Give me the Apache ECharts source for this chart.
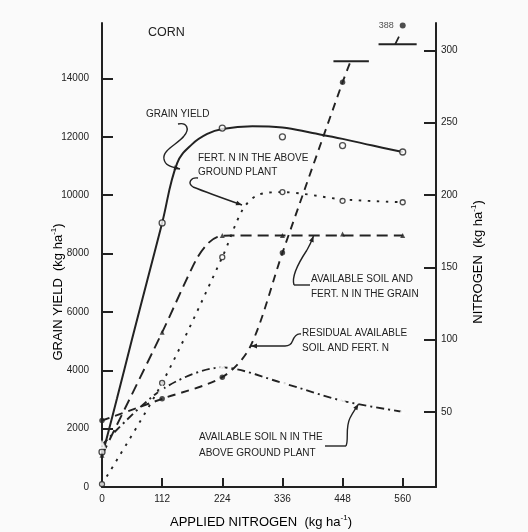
<!DOCTYPE html>
<html>
<head>
<meta charset="utf-8">
<script src="https://cdn.jsdelivr.net/npm/echarts@6/dist/echarts.min.js"></script>
<style>
  html, body { margin: 0; padding: 0; background: #fafafa; }
  #chart { width: 528px; height: 532px; }
</style>
</head>
<body>
<div id="chart"></div>
<script>
// ---- Data (kg/ha) ----
const nRates = [0, 112, 224, 336, 448, 560];
const xTicks = [0, 112, 224, 336, 448, 560];
const yieldTicks = [0, 2000, 4000, 6000, 8000, 10000, 12000, 14000];
const nitrogenTicks = [50, 100, 150, 200, 250, 300];

// Grain yield: measured means and the fitted response curve
const grainYield = [1200, 9050, 12300, 12000, 11700, 11480];
const yieldFitX = [0, 28, 56, 84, 112, 140, 168, 196, 224, 280, 336, 392, 448, 504, 560];
const yieldFitY = [1050, 3040, 5070, 7060, 9050, 11100, 11750, 12100, 12270, 12360, 12320, 12130, 11930, 11700, 11480];

// Fertilizer N in the above ground plant
const fertNPlant = [0, 70, 157, 202, 196, 195];
const fertNFitX = [0, 112, 224, 262, 290, 336, 448, 560];
const fertNFitY = [0, 70, 157, 190, 200, 202, 197, 195];

// Available soil and fertilizer N in the grain
const grainN = [20, 105, 172, 172, 173, 172];
const grainNFitX = [0, 112, 175, 196, 215, 240, 336, 448, 560];
const grainNFitY = [20, 105, 155, 166, 171, 172, 172, 172, 172];

// Residual available soil and fertilizer N (560 kg/ha value is off scale)
const residualN = [44, 59, 74, 160, 278];
const residualFitX = [0, 112, 224, 276, 336, 448, 463];
const residualFitY = [44, 59, 74, 95, 160, 278, 292.5];
const residualOffScale = [[560, 388]];

// Available soil N in the above ground plant
const soilNPlant = [27, 65.5, 80.7, 70, 57.6, 50];

// Scale-break bars on the residual curve: [x from, x to, N level]
const breakBars = [[431, 497, 292.5], [515, 586, 304.3]];
const breakTick = [[546, 304.3], [553, 309.5]];

// ---- Drawing ----
const ink = '#222222';
const paper = '#fafafa';
const font = '"Liberation Sans", Arial, Helvetica, sans-serif';
const pairs = (xs, ys) => xs.map((x, i) => [x, ys[i]]);

const chart = echarts.init(document.getElementById('chart'));

function axisBase(ticks, tickLen, labelMargin) {
  return {
    axisLine: { show: true, onZero: false, lineStyle: { color: ink, width: 2 } },
    axisTick: { show: true, inside: true, length: tickLen, customValues: ticks,
                lineStyle: { color: ink, width: 2 } },
    axisLabel: { show: true, customValues: ticks, margin: labelMargin, formatter: v => String(v),
                 color: ink, fontSize: 10, fontFamily: font },
    splitLine: { show: false }
  };
}

function curve(name, data, yAxisIndex, dash, width, smooth) {
  return {
    name, type: 'line', data, yAxisIndex,
    smooth: smooth === undefined ? 0.3 : smooth, showSymbol: false, silent: true,
    lineStyle: { color: ink, width: width || 1.9, type: dash }, z: 3
  };
}

function points(name, data, yAxisIndex, symbol, size, filled) {
  return {
    name, type: 'scatter', data, yAxisIndex, symbol, symbolSize: size,
    itemStyle: filled ? { color: ink } : { color: paper, borderColor: ink, borderWidth: 1.3 },
    z: 5
  };
}

// leader line made of cubic segments, ending in a small arrowhead
function leader(pts) {
  const els = [];
  for (let i = 0; i + 3 < pts.length; i += 3) {
    els.push({
      type: 'bezierCurve',
      shape: { x1: pts[i][0], y1: pts[i][1], cpx1: pts[i + 1][0], cpy1: pts[i + 1][1],
               cpx2: pts[i + 2][0], cpy2: pts[i + 2][1], x2: pts[i + 3][0], y2: pts[i + 3][1] },
      style: { stroke: ink, lineWidth: 1.4, fill: null }
    });
  }
  const tip = pts[pts.length - 1], prev = pts[pts.length - 2];
  let dx = tip[0] - prev[0], dy = tip[1] - prev[1];
  const len = Math.hypot(dx, dy) || 1; dx /= len; dy /= len;
  const bx = tip[0] - dx * 6, by = tip[1] - dy * 6;
  els.push({
    type: 'polygon',
    shape: { points: [tip, [bx - dy * 2.4, by + dx * 2.4], [bx + dy * 2.4, by - dx * 2.4]] },
    style: { fill: ink }
  });
  return els;
}

function note(text, x, y, size, align) {
  return { type: 'text', x, y,
    style: { text, fill: ink, font: `${size || 10}px ${font}`, textAlign: align || 'left', textVerticalAlign: 'middle' } };
}

const unitRich = {
  a: { fontSize: 13, fontFamily: font, color: ink, lineHeight: 16 },
  s: { fontSize: 8, fontFamily: font, color: ink, lineHeight: 9, verticalAlign: 'top' }
};
function axisTitle(label, x, y, rotation) {
  return { type: 'text', x, y, rotation,
    style: { text: `{a|${label}  (kg ha}{s|-1}{a|)}`, rich: unitRich,
             textAlign: 'center', textVerticalAlign: 'middle' } };
}

const option = {
  backgroundColor: paper,
  animation: false,
  grid: { left: 102, right: 92, top: 23, bottom: 45 },
  xAxis: Object.assign({ type: 'value', min: 0, max: 622 }, axisBase(xTicks, 9, 7)),
  yAxis: [
    Object.assign({ type: 'value', position: 'left', min: 0, max: 15900 }, axisBase(yieldTicks, 11, 13)),
    Object.assign({ type: 'value', position: 'right', min: -2, max: 319 }, axisBase(nitrogenTicks, 12, 5)),
    // compressed scale above the break, used only for the off-scale residual value
    { type: 'value', position: 'right', min: 0, max: 390, show: false }
  ],
  series: [
    curve('Grain yield fit', pairs(yieldFitX, yieldFitY), 0, 'solid', 2, 0.4),
    points('Grain yield', pairs(nRates, grainYield), 0, 'circle', 6, false),

    curve('Fert. N in the above ground plant', pairs(fertNFitX, fertNFitY), 1, [2.5, 6.5]),
    points('Fert. N in the above ground plant (obs)', pairs(nRates, fertNPlant), 1, 'circle', 5, false),

    curve('Available soil and fert. N in the grain', pairs(grainNFitX, grainNFitY), 1, [11, 6]),
    points('Available soil and fert. N in the grain (obs)', pairs(nRates, grainN), 1, 'triangle', 5, true),

    curve('Residual available soil and fert. N', pairs(residualFitX, residualFitY), 1, [8, 6]),
    points('Residual available soil and fert. N (obs)', pairs(nRates.slice(0, 5), residualN), 1, 'circle', 5.5, true),
    {
      name: 'Residual off scale', type: 'scatter', yAxisIndex: 2, data: residualOffScale,
      symbol: 'circle', symbolSize: 6, itemStyle: { color: ink },
      label: { show: true, position: 'left', distance: 6, formatter: p => String(p.value[1]),
               color: ink, fontSize: 9, fontFamily: font }
    },
    {
      name: 'Scale break', type: 'custom', yAxisIndex: 1, data: breakBars, silent: true,
      renderItem: (params, api) => {
        const a = api.coord([api.value(0), api.value(2)]);
        const b = api.coord([api.value(1), api.value(2)]);
        return { type: 'line', shape: { x1: a[0], y1: a[1], x2: b[0], y2: b[1] },
                 style: { stroke: ink, lineWidth: 1.9 } };
      }
    },
    curve('Scale break tick', breakTick, 1, 'solid', 1.7, false),

    curve('Available soil N in the above ground plant', pairs(nRates, soilNPlant), 1, [8, 4, 2, 4]),
    points('Available soil N in the above ground plant (obs)', pairs(nRates, soilNPlant), 1, 'emptyTriangle', 6, false)
  ],
  graphic: [
    note('CORN', 148, 33, 12.5),
    note('GRAIN YIELD', 146, 114),
    note('FERT. N IN THE ABOVE', 198, 158),
    note('GROUND PLANT', 198, 172),
    note('AVAILABLE SOIL AND', 311, 279),
    note('FERT. N IN THE GRAIN', 311, 294),
    note('RESIDUAL AVAILABLE', 302, 333),
    note('SOIL AND FERT. N', 302, 348),
    note('AVAILABLE SOIL N IN THE', 199, 437),
    note('ABOVE GROUND PLANT', 199, 453),
    axisTitle('GRAIN YIELD', 58, 292, Math.PI / 2),
    axisTitle('NITROGEN', 478, 262, Math.PI / 2),
    axisTitle('APPLIED NITROGEN', 261, 522, 0),
    ...leader([[178, 124], [187, 122], [190, 129], [184, 136], [178, 144], [162, 150], [164, 159],
               [165, 166], [172, 167], [180, 169]]),
    ...leader([[198, 178], [191, 177], [187, 183], [193, 187], [208, 193], [225, 199], [242, 205]]),
    ...leader([[310, 285], [304, 285], [298, 285], [294, 285], [291, 276], [301, 259], [307, 250],
               [310, 245], [312, 240], [313.5, 236]]),
    ...leader([[301, 334], [296, 333], [294, 337], [292.5, 341], [291, 345], [289, 346], [285, 346],
               [274, 346], [262, 346], [251, 346]]),
    ...leader([[325, 446], [332, 446], [339, 446], [346, 446], [349, 440], [345, 428], [350, 418],
               [353, 412], [356, 408], [358.5, 404]])
  ]
};

chart.setOption(option);
</script>
</body>
</html>
